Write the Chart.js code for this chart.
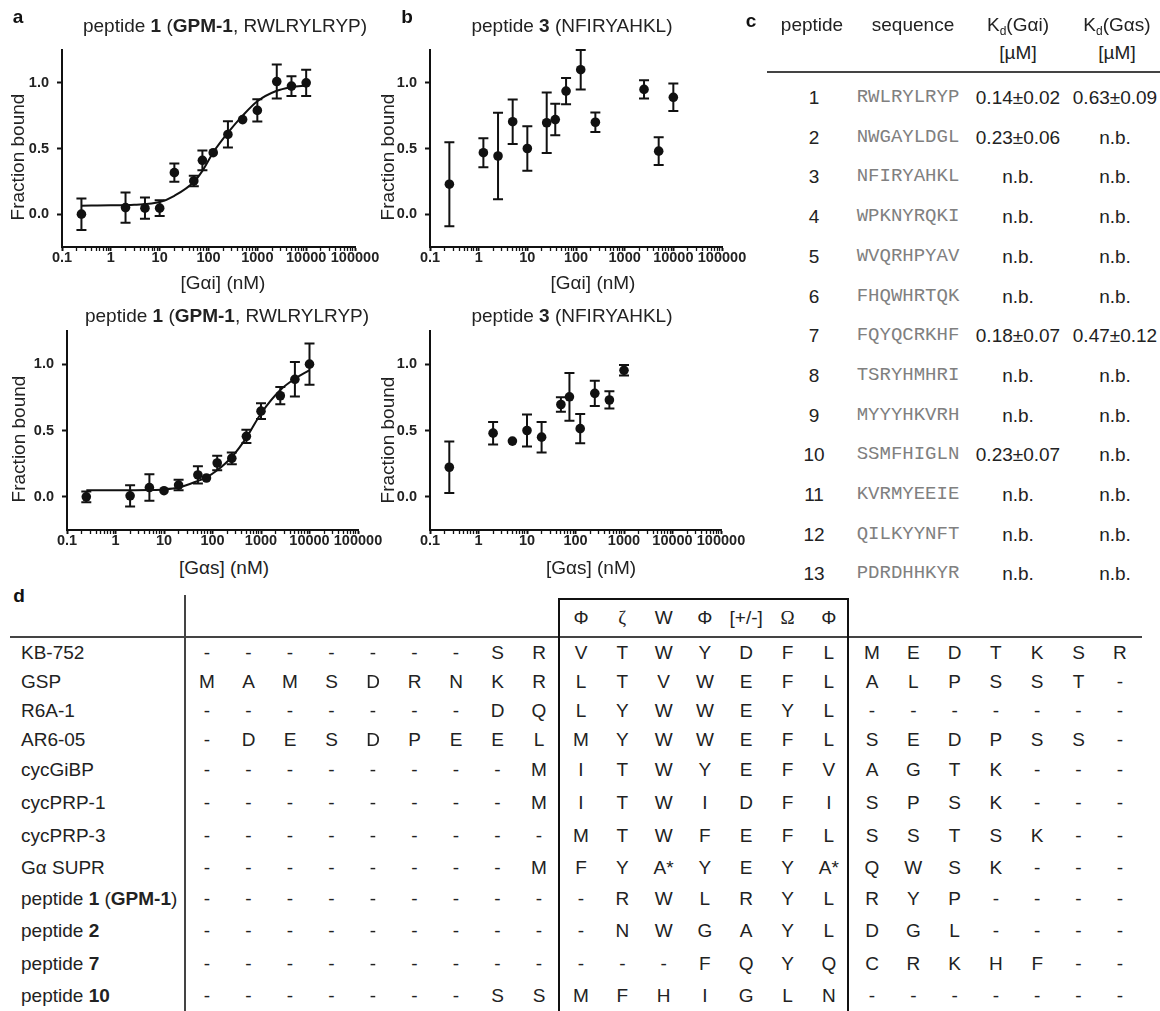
<!DOCTYPE html>
<html>
<head>
<meta charset="utf-8">
<script src="https://cdn.jsdelivr.net/npm/chart.js@4.4.1/dist/chart.umd.min.js"></script>
<style>
  body { margin: 0; background: #fff; }
  #fig { position: relative; width: 1160px; height: 1011px; overflow: hidden;
         font-family: "Liberation Sans", Arial, sans-serif; color: #222; }
  .t { position: absolute; white-space: nowrap; font-size: 19px; line-height: 1;
       transform: translate(-50%, -50%); }
  .l { transform: translate(0, -50%); }
  .rot { transform: translate(-50%, -50%) rotate(-90deg); }
  .mono { font-family: "Liberation Mono", "Courier New", monospace; color: #808080; }
  .serif { font-family: "Liberation Serif", "Times New Roman", serif; }
  .pl { font-weight: bold; color: #111; }
  sub { font-size: 12px; vertical-align: -4px; line-height: 0; }
  canvas { position: absolute; }
  .ln { position: absolute; background: #444; }
  .box { position: absolute; border: 2.5px solid #111; box-sizing: border-box; }
</style>
</head>
<body>
<div id="fig"></div>
<script>
// panel a: peptide 1 vs Gαi
var xA = [0.25, 2, 5, 10, 20, 50, 75, 125, 250, 500, 1000, 2500, 5000, 10000];
var yA = [0.0, 0.05, 0.046, 0.046, 0.316, 0.253, 0.41, 0.468, 0.607, 0.72, 0.79, 1.01, 0.975, 1.0];
var eA = [0.12, 0.115, 0.08, 0.06, 0.07, 0.04, 0.075, 0, 0.1, 0, 0.085, 0.13, 0.075, 0.1];
var fitAx = [0.25, 1, 3, 10, 20, 50, 75, 125, 250, 500, 1000, 2500, 5000, 10000];
var fitAy = [0.065, 0.067, 0.072, 0.092, 0.14, 0.245, 0.33, 0.47, 0.62, 0.75, 0.86, 0.94, 0.967, 0.98];

// panel b: peptide 3 vs Gαi
var xB = [0.25, 1.25, 2.5, 5, 10, 25, 37.5, 62.5, 125, 250, 2500, 5000, 10000];
var yB = [0.228, 0.468, 0.443, 0.704, 0.5, 0.696, 0.72, 0.937, 1.1, 0.70, 0.95, 0.48, 0.89];
var eB = [0.32, 0.11, 0.33, 0.17, 0.17, 0.23, 0.12, 0.1, 0.15, 0.075, 0.07, 0.105, 0.105];

// panel a (bottom): peptide 1 vs Gαs
var xC = [0.25, 2, 5, 10, 20, 50, 75, 125, 250, 500, 1000, 2500, 5000, 10000];
var yC = [0.0, 0.008, 0.07, 0.046, 0.089, 0.165, 0.142, 0.255, 0.29, 0.456, 0.646, 0.762, 0.886, 1.0];
var eC = [0.04, 0.08, 0.1, 0, 0.04, 0.065, 0, 0.055, 0.045, 0.05, 0.06, 0.065, 0.13, 0.155];
var fitCx = [0.25, 1, 5, 10, 20, 50, 75, 125, 250, 500, 1000, 2500, 5000, 10000];
var fitCy = [0.05, 0.05, 0.052, 0.056, 0.07, 0.12, 0.147, 0.2, 0.3, 0.446, 0.628, 0.805, 0.89, 0.955];

// panel b (bottom): peptide 3 vs Gαs
var xD = [0.25, 2, 5, 10, 20, 50, 75, 125, 250, 500, 1000];
var yD = [0.223, 0.48, 0.42, 0.5, 0.45, 0.696, 0.754, 0.514, 0.78, 0.73, 0.954];
var eD = [0.195, 0.085, 0, 0.12, 0.115, 0.055, 0.18, 0.11, 0.095, 0.065, 0.04];

var xMajor = [0.1, 1, 10, 100, 1000, 10000, 100000];
var yTicks = [0, 0.5, 1.0];

// table c
var pepNo = ['1', '2', '3', '4', '5', '6', '7', '8', '9', '10', '11', '12', '13'];
var pepSeq = ['RWLRYLRYP', 'NWGAYLDGL', 'NFIRYAHKL', 'WPKNYRQKI', 'WVQRHPYAV', 'FHQWHRTQK', 'FQYQCRKHF',
    'TSRYHMHRI', 'MYYYHKVRH', 'SSMFHIGLN', 'KVRMYEEIE', 'QILKYYNFT', 'PDRDHHKYR'];
var kdGai = ['0.14±0.02', '0.23±0.06', 'n.b.', 'n.b.', 'n.b.', 'n.b.', '0.18±0.07', 'n.b.', 'n.b.', '0.23±0.07', 'n.b.', 'n.b.', 'n.b.'];
var kdGas = ['0.63±0.09', 'n.b.', 'n.b.', 'n.b.', 'n.b.', 'n.b.', '0.47±0.12', 'n.b.', 'n.b.', 'n.b.', 'n.b.', 'n.b.', 'n.b.'];

// table d
var motif = ['Φ', 'ζ', 'W', 'Φ', '[+/-]', 'Ω', 'Φ'];
var alignNames = ['KB-752', 'GSP', 'R6A-1', 'AR6-05', 'cycGiBP', 'cycPRP-1', 'cycPRP-3', 'Gα SUPR',
    'peptide <b>1</b> (<b>GPM-1</b>)', 'peptide <b>2</b>', 'peptide <b>7</b>', 'peptide <b>10</b>'];
var alignN = ['- - - - - - - S R', 'M A M S D R N K R', '- - - - - - - D Q', '- D E S D P E E L',
    '- - - - - - - - M', '- - - - - - - - M', '- - - - - - - - -', '- - - - - - - - M',
    '- - - - - - - - -', '- - - - - - - - -', '- - - - - - - - -', '- - - - - - - S S'];
var alignCore = ['V T W Y D F L', 'L T V W E F L', 'L Y W W E Y L', 'M Y W W E F L',
    'I T W Y E F V', 'I T W I D F I', 'M T W F E F L', 'F Y A* Y E Y A*',
    '- R W L R Y L', '- N W G A Y L', '- - - F Q Y Q', 'M F H I G L N'];
var alignC = ['M E D T K S R', 'A L P S S T -', '- - - - - - -', 'S E D P S S -',
    'A G T K - - -', 'S P S K - - -', 'S S T S K - -', 'Q W S K - - -',
    'R Y P - - - -', 'D G L - - - -', 'C R K H F - -', '- - - - - - -'];

var fig = document.getElementById('fig');
var FONT = '"Liberation Sans", Arial, sans-serif';

function label(html, x, y, cls) {
    var d = document.createElement('div');
    d.className = 't' + (cls ? ' ' + cls : '');
    d.innerHTML = html;
    d.style.left = x + 'px';
    d.style.top = y + 'px';
    fig.appendChild(d);
    return d;
}
function rule(x, y, w, h, cls) {
    var d = document.createElement('div');
    d.className = cls || 'ln';
    d.style.left = x + 'px'; d.style.top = y + 'px';
    d.style.width = w + 'px'; d.style.height = h + 'px';
    fig.appendChild(d);
}

function pts(xs, ys) {
    return xs.map(function (x, i) { return {x: x, y: ys[i]}; });
}

var xTickValues = [];
xMajor.forEach(function (d, i) {
    xTickValues.push(d);
    if (i < xMajor.length - 1) for (var k = 2; k < 10; k++) xTickValues.push(d * k);
});

var errorBars = {
    id: 'errorBars',
    afterDatasetsDraw: function (chart) {
        var ctx = chart.ctx, sx = chart.scales.x, sy = chart.scales.y;
        chart.data.datasets.forEach(function (ds) {
            if (!ds.errors) return;
            ctx.save();
            ctx.strokeStyle = '#111';
            ctx.lineWidth = 2;
            ds.data.forEach(function (p, i) {
                var e = ds.errors[i];
                if (!e) return;
                var px = sx.getPixelForValue(p.x);
                var y1 = sy.getPixelForValue(p.y - e), y2 = sy.getPixelForValue(p.y + e);
                ctx.beginPath();
                ctx.moveTo(px, y1); ctx.lineTo(px, y2);
                ctx.moveTo(px - 5, y1); ctx.lineTo(px + 5, y1);
                ctx.moveTo(px - 5, y2); ctx.lineTo(px + 5, y2);
                ctx.stroke();
            });
            ctx.restore();
        });
    }
};

function makeChart(p) {
    var cv = document.createElement('canvas');
    var w = p.right - p.left + 85, h = p.bottom - p.top + 55;
    cv.width = w; cv.height = h;
    cv.style.left = (p.left - 55) + 'px';
    cv.style.top = (p.top - 30) + 'px';
    fig.appendChild(cv);

    var datasets = [];
    if (p.fx) {
        datasets.push({data: pts(p.fx, p.fy), showLine: true, pointRadius: 0, borderColor: '#111',
            borderWidth: 2, cubicInterpolationMode: 'monotone'});
    }
    datasets.push({data: pts(p.xs, p.ys), errors: p.es, pointRadius: 4.8,
        pointBackgroundColor: '#111', pointBorderWidth: 0});

    new Chart(cv, {
        type: 'scatter',
        data: {datasets: datasets},
        options: {
            responsive: false,
            animation: false,
            layout: {padding: {top: 30, right: 30, left: 0, bottom: 0}},
            plugins: {legend: {display: false}, tooltip: {enabled: false}},
            scales: {
                x: {
                    type: 'logarithmic', min: 0.1, max: 100000,
                    afterBuildTicks: function (s) {
                        s.ticks = xTickValues.map(function (v) { return {value: v}; });
                    },
                    afterFit: function (s) { s.height = 25; },
                    ticks: {
                        autoSkip: false, maxRotation: 0, padding: 0, color: '#222',
                        font: {family: FONT, size: 14.5, weight: 'bold', lineHeight: 1},
                        callback: function (v) { return xMajor.indexOf(v) >= 0 ? String(v) : ''; }
                    },
                    grid: {
                        drawOnChartArea: false, tickLength: 4, tickColor: '#111',
                        tickWidth: function (c) {
                            return c.tick && xMajor.indexOf(c.tick.value) >= 0 ? 2 : 1.3;
                        }
                    },
                    border: {color: '#111', width: 2}
                },
                y: {
                    min: -0.25, max: 1.25,
                    afterBuildTicks: function (s) {
                        s.ticks = yTicks.map(function (v) { return {value: v}; });
                    },
                    afterFit: function (s) { s.width = 55; },
                    ticks: {
                        padding: 8, color: '#222',
                        font: {family: FONT, size: 14.5, weight: 'bold'},
                        callback: function (v) { return v.toFixed(1); }
                    },
                    grid: {drawOnChartArea: false, tickLength: 5, tickColor: '#111', tickWidth: 2},
                    border: {color: '#111', width: 2}
                }
            }
        },
        plugins: [errorBars]
    });
}

// plots
makeChart({left: 62, right: 355, top: 50, bottom: 247, xs: xA, ys: yA, es: eA, fx: fitAx, fy: fitAy});
makeChart({left: 430, right: 722, top: 50, bottom: 247, xs: xB, ys: yB, es: eB});
makeChart({left: 67, right: 358, top: 331, bottom: 530, xs: xC, ys: yC, es: eC, fx: fitCx, fy: fitCy});
makeChart({left: 430, right: 721, top: 331, bottom: 530, xs: xD, ys: yD, es: eD});

// panel letters and titles
label('a', 18, 16, 'pl');
label('b', 407, 16, 'pl');
label('c', 751, 20, 'pl');
label('d', 19, 595, 'pl');

label('peptide <b>1</b> (<b>GPM-1</b>, RWLRYLRYP)', 225, 25);
label('peptide <b>3</b> (NFIRYAHKL)', 572, 25);
label('peptide <b>1</b> (<b>GPM-1</b>, RWLRYLRYP)', 227, 315);
label('peptide <b>3</b> (NFIRYAHKL)', 572, 315);

label('[Gαi] (nM)', 223, 282);
label('[Gαi] (nM)', 593, 282);
label('[Gαs] (nM)', 224, 567);
label('[Gαs] (nM)', 591, 567);

label('Fraction bound', 17, 157, 'rot');
label('Fraction bound', 387, 157, 'rot');
label('Fraction bound', 18, 439, 'rot');
label('Fraction bound', 387, 440, 'rot');

// table c
label('peptide', 812, 24);
label('sequence', 913, 24);
label('K<sub>d</sub>(Gαi)', 1018, 24);
label('[µM]', 1018, 52);
label('K<sub>d</sub>(Gαs)', 1117, 24);
label('[µM]', 1117, 52);
rule(767, 71, 393, 1.5);
pepNo.forEach(function (n, i) {
    var y = 97 + i * 39.7;
    label(n, 814, y);
    label(pepSeq[i], 908, y, 'mono');
    label(kdGai[i], 1018, y);
    label(kdGas[i], 1115, y);
});

// table d
rule(184, 595, 1.5, 420);
rule(10, 636, 1132, 1.5);
rule(558, 598, 291, 420, 'box');
var rowY = [652, 681, 710, 739, 769, 802, 835, 867, 898, 930, 963, 995];
var colN = 207, colCore = 581, colC = 872;
motif.forEach(function (m, j) {
    label(m, colCore + j * 41.3, 617, (m === 'Ω' || m === 'ζ') ? 'serif' : '');
});
alignNames.forEach(function (name, i) {
    var y = rowY[i];
    label(name, 21, y, 'l');
    alignN[i].split(' ').forEach(function (a, j) { label(a, colN + j * 41.5, y); });
    alignCore[i].split(' ').forEach(function (a, j) { label(a, colCore + j * 41.3, y); });
    alignC[i].split(' ').forEach(function (a, j) { label(a, colC + j * 41.3, y); });
});
</script>
</body>
</html>
